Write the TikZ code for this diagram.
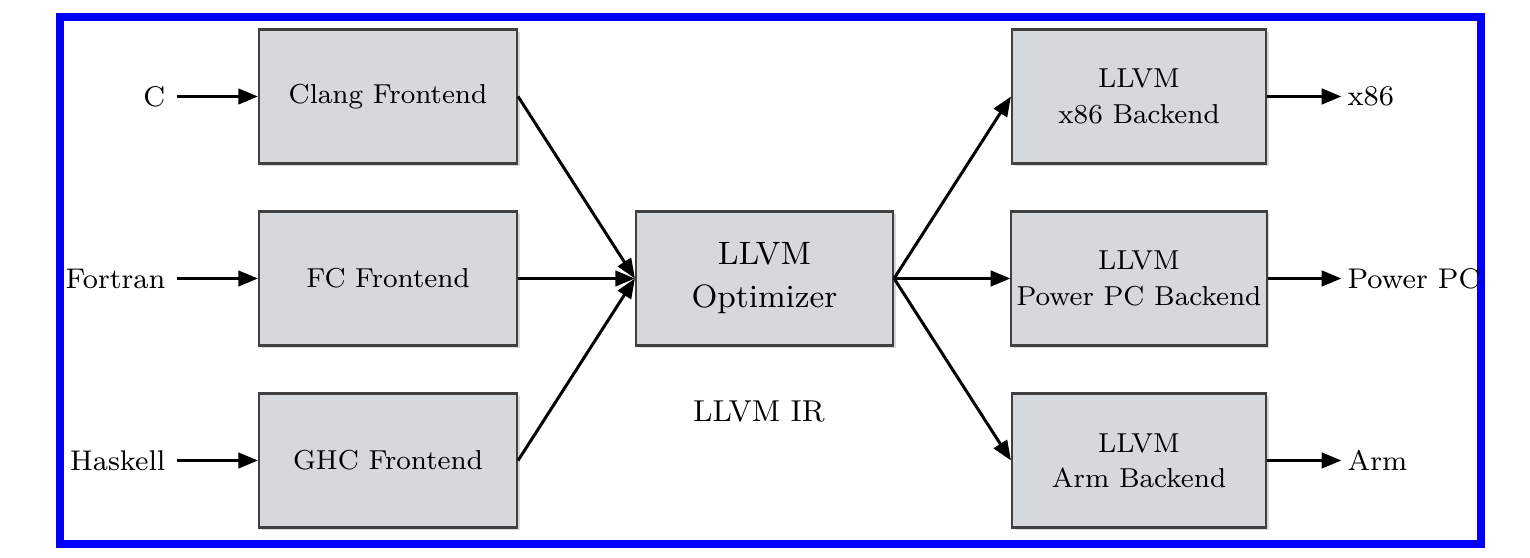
\documentclass[tikz,border=0pt]{standalone}
\usetikzlibrary{shadows,arrows.meta}

\definecolor{boxgray}{RGB}{214,217,219}
\definecolor{frameblue}{RGB}{0,0,250}

\tikzset{
  stage/.style={draw=black!75, line width=0.6pt, fill=boxgray,
    minimum width=2.56cm, minimum height=1.34cm, align=center,
    inner xsep=1.5pt, font=\fontsize{7.8}{10}\selectfont,
    drop shadow={shadow xshift=0.8pt, shadow yshift=-0.8pt, opacity=0.3}},
  lang/.style={inner sep=0pt, font=\fontsize{8.1}{10}\selectfont},
  flow/.style={-{Triangle[length=5.6pt,width=4.4pt]}, line width=0.85pt}
}

\begin{document}
\begin{tikzpicture}
  \useasboundingbox (0,0) rectangle (15.30,5.58);
  \draw[frameblue, line width=0.08cm] (0.60,0.14) rectangle (14.81,5.41);

  \node[stage, minimum width=2.57cm, font=\fontsize{9.2}{12.2}\selectfont] (opt) at (7.645,2.795) {LLVM\\Optimizer};
  \node[lang, font=\fontsize{8.6}{10}\selectfont] (ir) at (7.59,1.46) {LLVM IR};

  % frontends
  \foreach \n/\lang/\txt/\y in {clang/C/Clang Frontend/4.615, fc/Fortran/FC Frontend/2.795, ghc/Haskell/GHC Frontend/0.975}{
    \node[stage, minimum width=2.58cm] (\n) at (3.88,\y) {\txt};
    \node[lang, anchor=east] (\n-in) at (1.66,\y) {\lang};
    \draw[flow, shorten <=3.1pt] (\n-in) -- (\n);
    \draw[flow] (\n.east) -- (opt.west);
  }

  % backends
  \foreach \n/\target/\txt/\y in {xb/x86/{LLVM\\x86 Backend}/4.615, pb/Power PC/{LLVM\\Power PC Backend}/2.795, ab/Arm/{LLVM\\Arm Backend}/0.975}{
    \node[stage, minimum width=2.54cm] (\n) at (11.39,\y) {\txt};
    \node[lang, anchor=west] (\n-out) at (13.47,\y) {\target};
    \draw[flow, shorten >=1.6pt] (\n) -- (\n-out);
    \draw[flow] (opt.east) -- (\n.west);
  }
\end{tikzpicture}
\end{document}
